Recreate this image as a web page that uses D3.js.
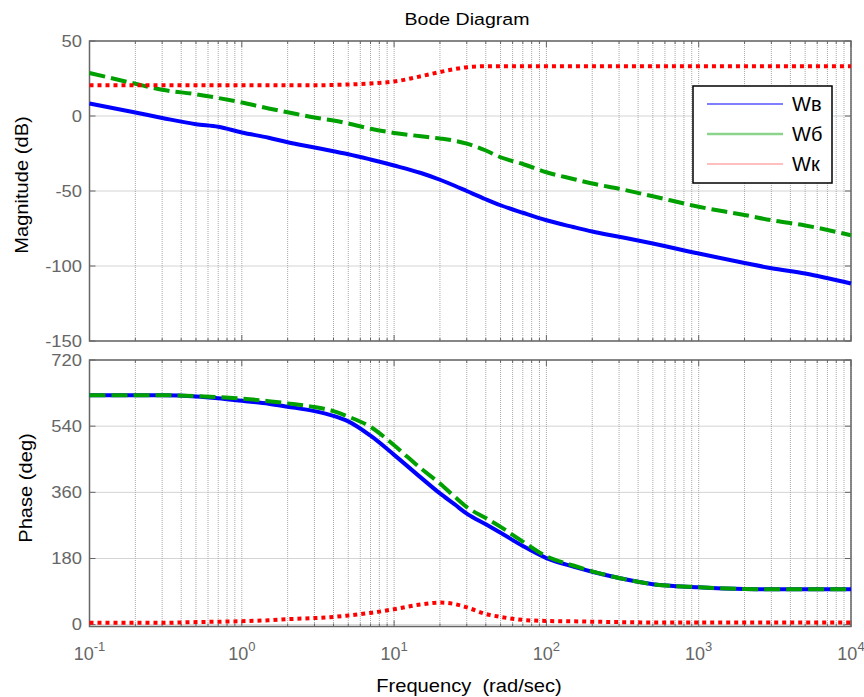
<!DOCTYPE html>
<html>
<head>
<meta charset="utf-8">
<script src="https://cdn.jsdelivr.net/npm/d3@7"></script>
<style>
  body { margin: 0; background: #fff; }
  svg { display: block; font-family: "Liberation Sans", Arial, sans-serif; }
</style>
</head>
<body>
<svg id="bode" width="864" height="697"></svg>
<script>
// Frequences (rad/sec) communes a toutes les courbes
const freq = [0.1, 0.2, 0.3, 0.5, 0.7, 1, 1.5, 2, 3, 4, 5, 7, 10, 15, 20, 25, 30, 40, 50, 70,
  100, 150, 200, 300, 500, 1000, 2000, 3000, 5000, 10000];

// Amplitude (dB)
const magWv = [8.3, 2.3, -1.3, -5.5, -7.2, -11, -14.5, -17.5, -21, -23.5, -25.5, -29, -33, -38, -42.5, -46.5, -50, -55.5, -59.5, -64.5,
  -69.5, -74, -77, -80.5, -85, -91.7, -98, -101.5, -105, -111.7];
const magWb = [28.7, 21.5, 17.5, 14.5, 12, 9, 5, 2.5, -1, -3, -5, -8.5, -11.3, -13.5, -15, -16.5, -18.4, -23, -27.5, -32,
  -37.5, -42, -45, -48.5, -53.5, -60.5, -66, -69.5, -73, -79.5];
const magWk = [20.5, 20.5, 20.5, 20.5, 20.5, 20.5, 20.5, 20.5, 20.5, 20.7, 21, 21.7, 23, 26.5, 29.3, 31.3, 32.5, 33.2, 33.2, 33.2,
  33.2, 33.2, 33.2, 33.2, 33.2, 33.2, 33.2, 33.2, 33.2, 33.2];

// Phase (deg)
const phWv = [624, 624, 624, 621, 616, 609, 601, 593, 581, 568, 553, 514, 462, 400, 357, 327, 302, 273, 250, 214,
  181, 158, 144, 127, 110, 102, 97, 96, 96, 96];
const phWb = [624, 624, 624, 622, 619, 615, 608, 602, 592, 581, 566, 538, 488, 425, 384, 348, 320, 290, 266, 226,
  186, 161, 145, 127, 110, 102, 97, 96, 96, 96];
const phWk = [5, 5, 5, 7, 8, 9.5, 12, 15, 18, 21, 25, 32, 42, 55, 60, 56, 47, 29, 21, 13,
  10, 9, 8, 7, 6, 6, 6, 6, 6, 6];

// Graduations
const magTicks = [50, 0, -50, -100, -150];
const phTicks = [720, 540, 360, 180, 0];
const decades = [-1, 0, 1, 2, 3, 4];

const legendNames = ["Wв", "Wб", "Wк"];

const svg = d3.select("#bode");
const gridColor = "#a8a8a8";
const axisColor = "#666";
// le texte de matlab est un peu etire en largeur
const stretch = "scale(1.15,1)";

const x = d3.scaleLog().domain([0.1, 10000]).range([89.5, 851]);
const yMag = d3.scaleLinear().domain([-150, 50]).range([341, 41]);
const yPh = d3.scaleLinear().domain([-5, 720]).range([626.5, 360]);

// tous les traits de grille verticale (majeurs + mineurs)
var minor = [];
decades.forEach(function(d) {
  if (d < 4) {
    for (var k = 2; k <= 9; k++) minor.push(k * Math.pow(10, d));
  }
});
var majors = decades.map(d => Math.pow(10, d));

function drawAxes(y, ticks) {
  var top = y.range()[1], bottom = y.range()[0];
  var g = svg.append("g");

  // grille
  g.selectAll(".vgrid").data(majors.concat(minor)).enter().append("line")
    .attr("x1", d => x(d)).attr("x2", d => x(d))
    .attr("y1", top).attr("y2", bottom)
    .attr("stroke", gridColor).attr("stroke-width", 1).attr("stroke-dasharray", "1,1");
  g.selectAll(".hgrid").data(ticks).enter().append("line")
    .attr("x1", x.range()[0]).attr("x2", x.range()[1])
    .attr("y1", d => y(d)).attr("y2", d => y(d))
    .attr("stroke", gridColor).attr("stroke-width", 1).attr("stroke-dasharray", "1,1");

  // petites graduations vers l'interieur
  var tk = majors.map(d => ({v: d, len: 6})).concat(minor.map(d => ({v: d, len: 3})));
  tk.forEach(function(t) {
    g.append("line").attr("x1", x(t.v)).attr("x2", x(t.v)).attr("y1", bottom).attr("y2", bottom - t.len)
      .attr("stroke", axisColor);
    g.append("line").attr("x1", x(t.v)).attr("x2", x(t.v)).attr("y1", top).attr("y2", top + t.len)
      .attr("stroke", axisColor);
  });
  ticks.forEach(function(t) {
    g.append("line").attr("x1", x.range()[0]).attr("x2", x.range()[0] + 6).attr("y1", y(t)).attr("y2", y(t))
      .attr("stroke", axisColor);
    g.append("line").attr("x1", x.range()[1]).attr("x2", x.range()[1] - 6).attr("y1", y(t)).attr("y2", y(t))
      .attr("stroke", axisColor);
  });

  // libelles de l'axe y
  g.selectAll(".ylab").data(ticks).enter().append("text")
    .attr("transform", d => "translate(82," + y(d) + ") " + stretch)
    .attr("dy", "0.35em")
    .attr("text-anchor", "end").attr("font-size", "16px").attr("fill", axisColor)
    .text(d => d);

  // cadre
  g.append("rect")
    .attr("x", x.range()[0]).attr("y", top)
    .attr("width", x.range()[1] - x.range()[0]).attr("height", bottom - top)
    .attr("fill", "none").attr("stroke", axisColor).attr("stroke-width", 1.5);
}

drawAxes(yMag, magTicks);
drawAxes(yPh, phTicks);

// Styles des courbes
const styles = [
  {color: "#0000ff", dash: null, width: 4},
  {color: "#00a000", dash: "16,6", width: 4},
  {color: "#ff0000", dash: "4,4", width: 4}
];

function drawCurve(y, values, st) {
  var line = d3.line()
    .x((d, i) => x(freq[i]))
    .y(d => y(d))
    .curve(d3.curveMonotoneX);
  svg.append("path")
    .datum(values)
    .attr("d", line)
    .attr("fill", "none")
    .attr("stroke", st.color)
    .attr("stroke-width", st.width)
    .attr("stroke-dasharray", st.dash);
}

[magWv, magWb, magWk].forEach((v, i) => drawCurve(yMag, v, styles[i]));
[phWv, phWb, phWk].forEach((v, i) => drawCurve(yPh, v, styles[i]));

// libelles de l'axe x (10^n)
var xl = svg.selectAll(".xlab").data(decades).enter().append("text")
  .attr("x", d => x(Math.pow(10, d)))
  .attr("y", 660)
  .attr("text-anchor", "middle")
  .attr("font-size", "18px")
  .attr("fill", axisColor);
xl.append("tspan").text("10");
xl.append("tspan").attr("dy", -9).attr("font-size", "13px").text(d => d);

// Titres
svg.append("text").attr("transform", "translate(467,25) " + stretch).attr("text-anchor", "middle")
  .attr("font-size", "17px").attr("fill", "#000").text("Bode Diagram");
svg.append("text").attr("transform", "translate(469,692) " + stretch).attr("text-anchor", "middle")
  .attr("font-size", "17.5px").attr("fill", "#000").attr("xml:space", "preserve")
  .text("Frequency  (rad/sec)");
svg.append("text").attr("transform", "translate(28,185) rotate(-90) " + stretch).attr("text-anchor", "middle")
  .attr("font-size", "17.5px").attr("fill", "#000").text("Magnitude (dB)");
svg.append("text").attr("transform", "translate(32,488) rotate(-90) " + stretch).attr("text-anchor", "middle")
  .attr("font-size", "17.5px").attr("fill", "#000").text("Phase (deg)");

// Legende
var leg = svg.append("g");
leg.append("rect").attr("x", 693).attr("y", 86).attr("width", 139).attr("height", 97)
  .attr("fill", "#fff").attr("stroke", "#000").attr("stroke-width", 1.5);
const legendLine = [
  {color: "#0000ff", width: 1.2, op: 1},
  {color: "#00a000", width: 2.5, op: 0.45},
  {color: "#ff0000", width: 1.2, op: 0.5}
];
legendNames.forEach(function(name, i) {
  var yy = 104 + i * 30;
  leg.append("line").attr("x1", 707).attr("x2", 783).attr("y1", yy).attr("y2", yy)
    .attr("stroke", legendLine[i].color).attr("stroke-width", legendLine[i].width)
    .attr("stroke-opacity", legendLine[i].op);
  leg.append("text").attr("x", 792).attr("y", yy).attr("dy", "0.35em")
    .attr("font-size", "20px").attr("fill", "#000").text(name);
});
</script>
</body>
</html>
